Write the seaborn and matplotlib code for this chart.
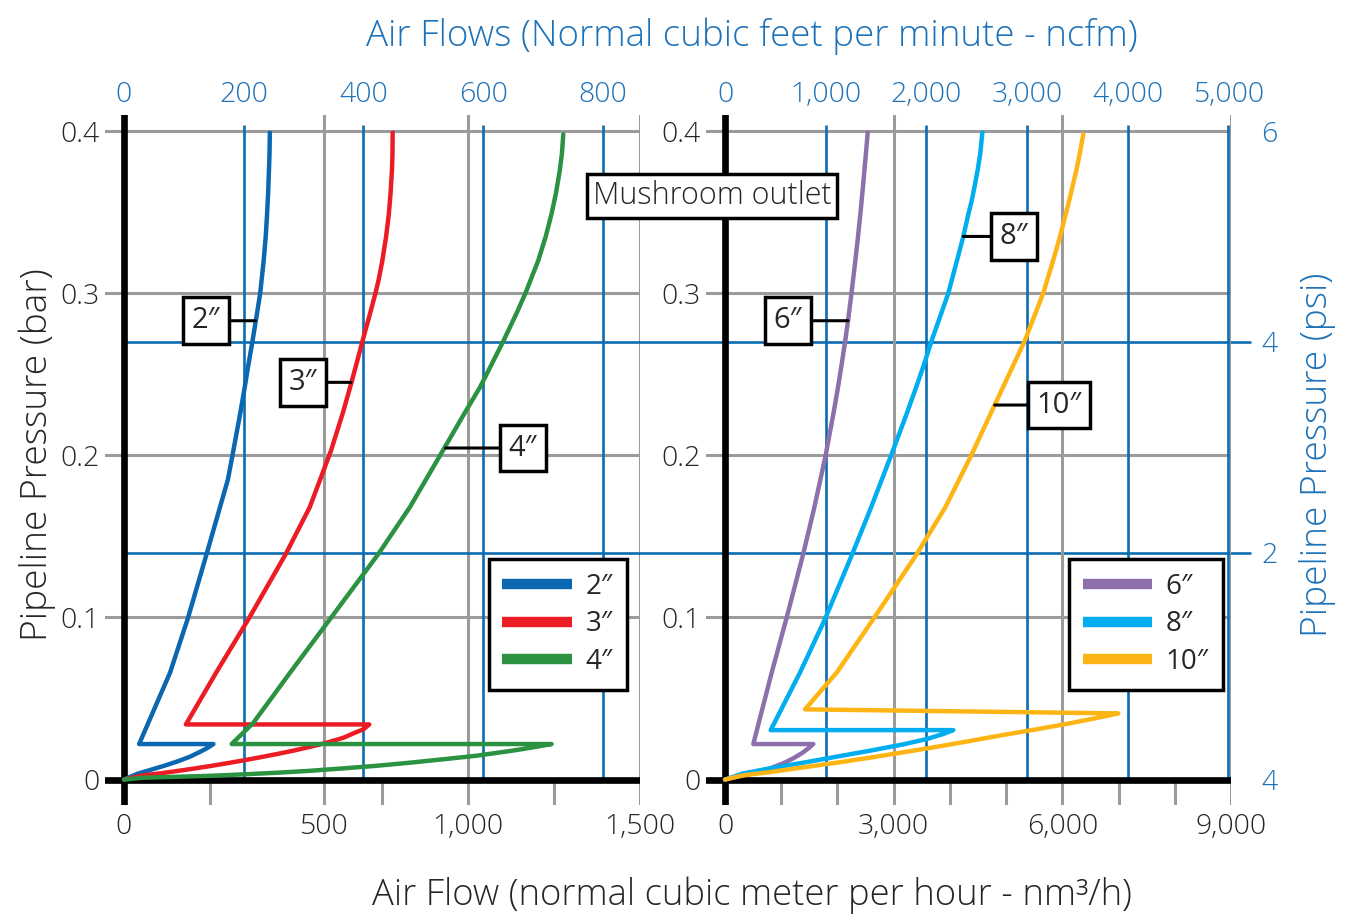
import matplotlib
matplotlib.use('Agg')
from matplotlib import pyplot as plt
from matplotlib.lines import Line2D
from matplotlib.transforms import blended_transform_factory
import seaborn as sns

# Curves: flow in nm3/h, pipeline pressure in bar.
# Each run goes origin -> peak -> back along the step -> up to 0.4 bar.
flow_2in = [0, 37, 76, 114, 153, 192, 221, 240, 260,
            44, 134, 185, 240, 302, 318, 338, 351, 361, 374, 387, 396, 406, 412, 416, 419,
            421.5, 423, 424]
bar_2in = [0, 0.0034, 0.0059, 0.0083, 0.011, 0.0141, 0.0171, 0.0192, 0.0219,
           0.0219, 0.066, 0.099, 0.139, 0.185, 0.203, 0.226, 0.242, 0.255, 0.271, 0.288,
           0.300, 0.320, 0.335, 0.349, 0.362, 0.376, 0.386, 0.399]
flow_3in = [0, 56, 105, 153, 201, 250, 298, 347, 395, 444, 492, 541, 589, 638, 667, 696, 713,
            180, 268, 362, 470, 540, 602, 636, 660, 674, 694, 716, 731, 740, 751, 762, 770,
            775, 779, 780.5, 781]
bar_3in = [0, 0.0026, 0.0038, 0.0052, 0.0067, 0.0083, 0.0100, 0.0118, 0.0137, 0.0157,
           0.0178, 0.0202, 0.0227, 0.0258, 0.0285, 0.031, 0.034,
           0.034, 0.066, 0.099, 0.139, 0.168, 0.203, 0.226, 0.244, 0.255, 0.271, 0.288,
           0.300, 0.308, 0.320, 0.335, 0.349, 0.362, 0.376, 0.386, 0.399]
flow_4in = [0, 56, 153, 250, 347, 444, 541, 638, 735, 831, 928, 1025, 1122, 1171, 1243,
            313, 376, 483, 599, 739, 831, 919, 990, 1035, 1066, 1104, 1142, 1167, 1204,
            1226, 1243, 1256, 1267, 1273, 1277]
bar_4in = [0, 0.0011, 0.0017, 0.0023, 0.0032, 0.0042, 0.0054, 0.0069, 0.0085, 0.0104,
           0.0125, 0.0147, 0.0176, 0.0192, 0.0219,
           0.0219, 0.035, 0.066, 0.099, 0.139, 0.168, 0.200, 0.226, 0.242, 0.255, 0.271,
           0.288, 0.300, 0.320, 0.335, 0.349, 0.362, 0.376, 0.386, 0.398]
flow_6in = [0, 267, 563, 800, 1037, 1215, 1364, 1482, 1571,
            503, 831, 1090, 1390, 1590, 1790, 1930, 2010, 2070, 2140, 2188, 2250, 2318,
            2366, 2408, 2444, 2480, 2506, 2538]
bar_6in = [0, 0.0022, 0.0044, 0.0069, 0.0100, 0.0131, 0.0162, 0.0192, 0.0219,
           0.0219, 0.066, 0.099, 0.139, 0.168, 0.200, 0.226, 0.242, 0.255, 0.271, 0.283,
           0.300, 0.320, 0.335, 0.349, 0.362, 0.376, 0.386, 0.399]
flow_8in = [0, 326, 800, 1393, 1987, 2579, 3172, 3588, 3883, 4061,
            813, 1334, 1779, 2262, 2600, 2955, 3235, 3400, 3530, 3678, 3800, 3972, 4125,
            4239, 4330, 4388, 4440, 4494, 4540, 4577]
bar_8in = [0, 0.0038, 0.0069, 0.0104, 0.0141, 0.0178, 0.0217, 0.025, 0.0281, 0.0305,
           0.0305, 0.066, 0.099, 0.139, 0.168, 0.200, 0.226, 0.242, 0.255, 0.271, 0.283,
           0.300, 0.320, 0.335, 0.349, 0.357, 0.366, 0.376, 0.386, 0.399]
flow_10in = [0, 326, 800, 1393, 1987, 2579, 3172, 3765, 4358, 4950, 5544, 6137, 6670, 6996,
             1423, 1987, 2638, 3410, 3920, 4380, 4810, 5336, 5660, 5835, 5960, 6125, 6250,
             6310, 6373]
bar_10in = [0, 0.0026, 0.0046, 0.0075, 0.0104, 0.0135, 0.0168, 0.0202, 0.0238, 0.0275,
            0.031, 0.0347, 0.0384, 0.0408,
            0.0433, 0.066, 0.099, 0.139, 0.168, 0.200, 0.232, 0.271, 0.300, 0.320, 0.335,
            0.3575, 0.376, 0.386, 0.398]

left_sizes = ['2″', '3″', '4″']
right_sizes = ['6″', '8″', '10″']
left_flows = [flow_2in, flow_3in, flow_4in]
left_bars = [bar_2in, bar_3in, bar_4in]
right_flows = [flow_6in, flow_8in, flow_10in]
right_bars = [bar_6in, bar_8in, bar_10in]
left_colors = ['#0a67b0', '#ec1c24', '#2a9241']
right_colors = ['#8d70ab', '#00adee', '#fdb515']

# axis ticks
bar_ticks = [0, 0.1, 0.2, 0.3, 0.4]
bar_labels = ['0', '0.1', '0.2', '0.3', '0.4']
psi_ticks_bar = [0, 0.14, 0.27, 0.4]
psi_labels = ['4', '2', '4', '6']
psi_lines_bar = [0.14, 0.27]
left_ncfm = [0, 200, 400, 600, 800]
right_ncfm = [0, 1000, 2000, 3000, 4000, 5000]

BLUE_TXT = '#1c72b8'
BLUE_GRID = '#0b6cb2'
GRAY = '#9b9b9b'
FAMILY = ['Open Sans', 'DejaVu Sans']

sns.set_style('white')
plt.rcParams['font.family'] = FAMILY
plt.rcParams['font.weight'] = 'light'

fig = plt.figure(figsize=(13.5, 9.19), dpi=100)
W, H = 1350, 919
ax1 = fig.add_axes([105 / W, 114 / H, 535 / W, 690 / H])
ax2 = fig.add_axes([706 / W, 114 / H, 525 / W, 690 / H])

YLIM = (-0.0157, 0.4099)
blue_top = 0.4037


def draw_panel(ax, flows, bars, colors, sizes, xlim, major, minor, xtick_pos, xtick_lab,
               ncfm, factor, legend_x, callouts):
    ax.set_facecolor('none')
    sns.despine(ax=ax, left=True, bottom=True, top=True, right=True)
    # grey grid
    for y in bar_ticks[1:]:
        ax.axhline(y, color=GRAY, lw=2.2, zorder=1)
    for x in major:
        ax.axvline(x, color=GRAY, lw=2.2, zorder=1)
    ax.vlines(minor, YLIM[0], 0, color=GRAY, lw=2.2, zorder=1)
    # ncfm grid
    ax.vlines([n * factor for n in ncfm[1:]], 0, blue_top, color=BLUE_GRID, lw=1.9, zorder=1.5)
    # black axes
    ax.axvline(0, color='black', lw=4.8, zorder=2.5)
    ax.axhline(0, color='black', lw=4.8, zorder=2.5)

    for f, b, c in zip(flows, bars, colors):
        sns.lineplot(x=f, y=b, sort=False, estimator=None, color=c, lw=3.2, ax=ax, zorder=3)

    ax.set_xlim(*xlim)
    ax.set_ylim(*YLIM)
    ax.set_xlabel('')
    ax.set_ylabel('')
    ax.set_xticks(xtick_pos, xtick_lab)
    ax.set_yticks(bar_ticks, bar_labels)
    ax.tick_params(axis='x', length=0, pad=6, labelsize=20.5)
    ax.tick_params(axis='y', length=0, pad=4, labelsize=20.5)

    sec = ax.secondary_xaxis('top', functions=(lambda v, k=factor: v / k,
                                               lambda v, k=factor: v * k))
    sec.set_xticks(ncfm, [f'{n:,}' for n in ncfm])
    sec.tick_params(length=0, pad=4, labelsize=20.5, labelcolor=BLUE_TXT)
    for s in sec.spines.values():
        s.set_visible(False)

    handles = [Line2D([], [], color=c, lw=7.5, solid_capstyle='butt') for c in colors]
    leg = ax.legend(handles, sizes, loc='lower right', bbox_to_anchor=(legend_x, 0.1667),
                    borderaxespad=0, frameon=True, fancybox=False, edgecolor='black',
                    framealpha=1, prop=dict(family=FAMILY, weight='normal', size=20),
                    handlelength=2.5, handletextpad=0.5, borderpad=0.5, labelspacing=0.35)
    leg.get_frame().set_linewidth(2.5)
    leg.set_zorder(5)

    for lab, txy, pxy in callouts:
        ax.annotate(lab, xy=pxy, xytext=txy, ha='center', va='center', fontsize=21,
                    fontweight='normal', zorder=4,
                    bbox=dict(boxstyle='square,pad=0.3', fc='white', ec='black', lw=2.5),
                    arrowprops=dict(arrowstyle='-', color='black', lw=2.2,
                                    shrinkA=0, shrinkB=0))


draw_panel(ax1, left_flows, left_bars, left_colors, left_sizes, (-55.2, 1500),
           [581, 1000, 1500], [250, 750, 1250], [0, 581, 1000, 1500],
           ['0', '500', '1,000', '1,500'], left_ncfm, 1.74, 0.975,
           [('2″', (238, 0.283), (382, 0.283)),
            ('3″', (520, 0.245), (660, 0.245)),
            ('4″', (1160, 0.2045), (935, 0.2045))])
draw_panel(ax2, right_flows, right_bars, right_colors, right_sizes, (-338, 9000),
           [3000, 6000, 9000], [1000, 2000, 4000, 5000, 7000, 8000], [0, 3000, 6000, 9000],
           ['0', '3,000', '6,000', '9,000'], right_ncfm, 1.79, 0.984,
           [('6″', (1121, 0.283), (2188, 0.283)),
            ('8″', (5140, 0.335), (4239, 0.335)),
            ('10″', (5941, 0.231), (4796, 0.231))])

# psi reference lines run across both panels
trans = blended_transform_factory(fig.transFigure, ax1.transData)
for b in psi_lines_bar:
    ax1.plot([124 / W, 1250 / W], [b, b], transform=trans, color=BLUE_GRID, lw=1.9,
             clip_on=False, zorder=1.5)

psi = ax2.secondary_yaxis('right')
psi.set_yticks(psi_ticks_bar, psi_labels)
psi.tick_params(length=0, pad=22, labelsize=20.5, labelcolor=BLUE_TXT)
for s in psi.spines.values():
    s.set_visible(False)

fig.text(712 / W, 1 - 196 / H, 'Mushroom outlet', ha='center', va='center', fontsize=22,
         bbox=dict(boxstyle='square,pad=0.2', fc='white', ec='black', lw=2.5), zorder=6)

fig.text(752 / W, 1 - 36 / H, 'Air Flows (Normal cubic feet per minute - ncfm)',
         ha='center', va='center', fontsize=26.5, color=BLUE_TXT)
fig.text(752 / W, 1 - 895 / H, 'Air Flow (normal cubic meter per hour - nm³/h)',
         ha='center', va='center', fontsize=26.2)
fig.text(37 / W, 1 - 455 / H, 'Pipeline Pressure (bar)', rotation=90,
         ha='center', va='center', fontsize=26.7)
fig.text(1318 / W, 1 - 455 / H, 'Pipeline Pressure (psi)', rotation=90,
         ha='center', va='center', fontsize=26.7, color=BLUE_TXT)

fig.savefig('out.png', dpi=100, facecolor='white')
